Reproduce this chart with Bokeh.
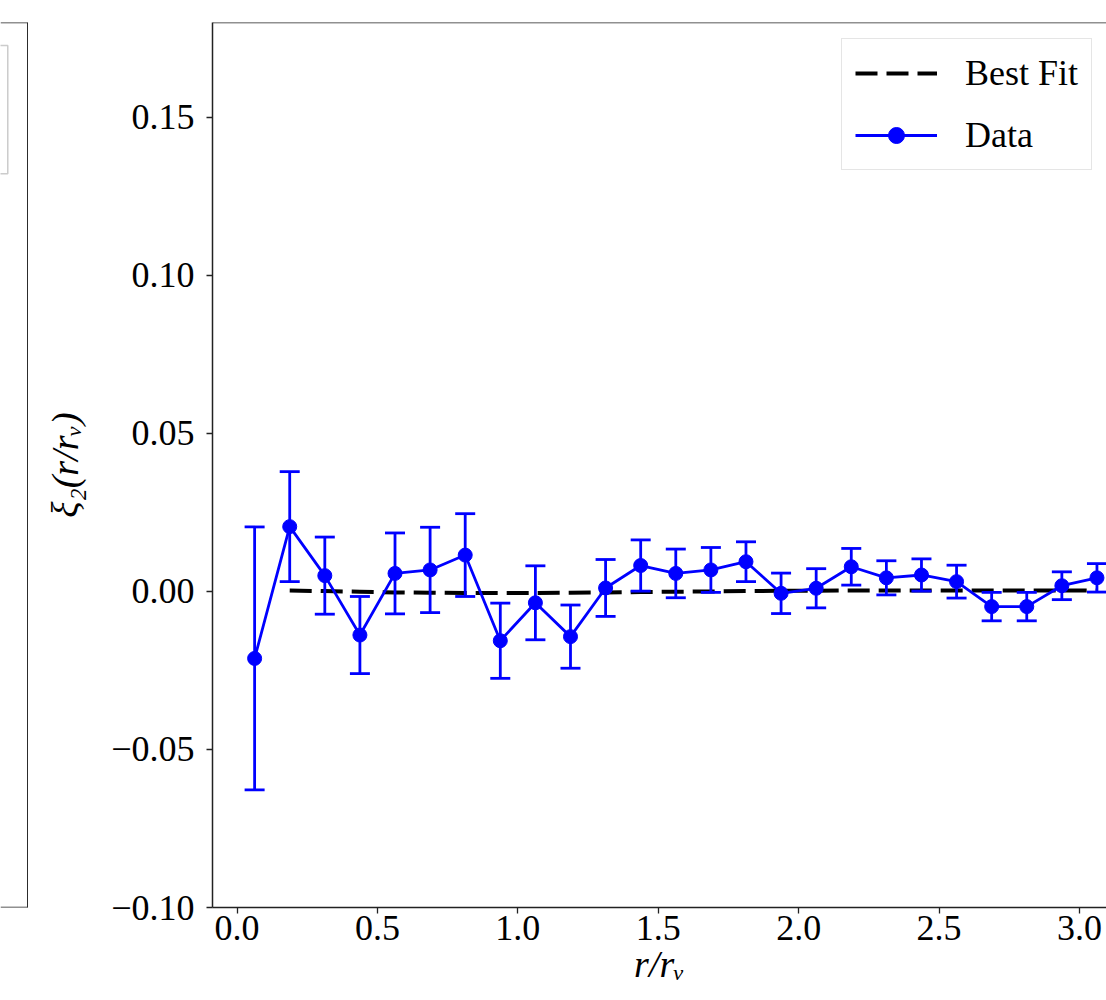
from bokeh.plotting import figure
from bokeh.models import (Range1d, FixedTicker, CustomJSTickFormatter, Whisker, TeeHead,
                          ColumnDataSource, Span, Legend, LegendItem)
from bokeh.layouts import row
from bokeh.embed import file_html
from bokeh.resources import INLINE

# ---------------- data ----------------
r_over_rv = [0.0625, 0.1875, 0.3125, 0.4375, 0.5625, 0.6875, 0.8125, 0.9375, 1.0625,
             1.1875, 1.3125, 1.4375, 1.5625, 1.6875, 1.8125, 1.9375, 2.0625, 2.1875,
             2.3125, 2.4375, 2.5625, 2.6875, 2.8125, 2.9375, 3.0625]
xi2 = [-0.0212, 0.0205, 0.0050, -0.0138, 0.0057, 0.0068, 0.0115, -0.0156, -0.0036,
       -0.0143, 0.0011, 0.0082, 0.0057, 0.0068, 0.0094, -0.0006, 0.0010, 0.0078,
       0.0043, 0.0052, 0.0031, -0.0048, -0.0048, 0.0018, 0.0043]
xi2_err = [0.0416, 0.0174, 0.0122, 0.0122, 0.0128, 0.0135, 0.0131, 0.0119, 0.0117,
           0.0100, 0.0090, 0.0081, 0.0077, 0.0071, 0.0063, 0.0064, 0.0062, 0.0058,
           0.0054, 0.0051, 0.0052, 0.0045, 0.0045, 0.0044, 0.0045]

fit_r = [0.1875, 0.3125, 0.4375, 0.5625, 0.6875, 0.8125, 0.9375, 1.0625, 1.1875,
         1.3125, 1.4375, 1.5625, 1.6875, 1.8125, 1.9375, 2.0625, 2.1875, 2.3125,
         2.4375, 2.5625, 2.6875, 2.8125, 2.9375, 3.0625]
fit_xi2 = [0.0003, 0.0001, -0.0001, -0.0003, -0.0004, -0.0005, -0.0005, -0.0005, -0.0004,
           -0.0003, -0.0002, -0.0001, 0.0000, 0.0001, 0.0002, 0.0002, 0.0003, 0.0003,
           0.0003, 0.0003, 0.0003, 0.0003, 0.0003, 0.0003]

x_ticks = [0.0, 0.5, 1.0, 1.5, 2.0, 2.5, 3.0]
y_ticks = [-0.10, -0.05, 0.0, 0.05, 0.10, 0.15]

FONT = "Liberation Serif"
FS = "36px"
BLUE = "#0000ff"

# ---------------- left (neighbour) panel, only its edge visible ----------------
p0 = figure(width=28, height=1000, x_range=Range1d(0, 1), y_range=Range1d(0, 1),
            x_axis_type=None, y_axis_type=None, output_backend="svg",
            toolbar_location=None, min_border_left=0, min_border_right=0,
            min_border_top=22, min_border_bottom=93)
p0.outline_line_color = None
p0.background_fill_color = "white"
p0.border_fill_color = "white"
p0.quad(left=[-1.0], right=[0.26], top=[0.974], bottom=[0.829],
        fill_color="white", line_color="#cccccc", line_width=1.5)
for loc, dim in [(0.975, "height"), (1.0, "width"), (0.0, "width")]:
    p0.add_layout(Span(location=loc, dimension=dim, line_color="#222222", line_width=1.5))

# ---------------- main panel ----------------
p = figure(width=1078, height=1000, x_range=Range1d(-0.0875, 3.0965),
           y_range=Range1d(-0.10, 0.18), output_backend="svg", toolbar_location=None,
           min_border_left=184, min_border_right=0, min_border_top=22,
           min_border_bottom=93)
p.outline_line_color = None
p.grid.visible = False
p.background_fill_color = "white"
p.border_fill_color = "white"

p.add_layout(Span(location=0.18, dimension="width", line_color="#222222", line_width=1.5))

src = ColumnDataSource(dict(
    x=r_over_rv, y=xi2,
    upper=[v + e for v, e in zip(xi2, xi2_err)],
    lower=[v - e for v, e in zip(xi2, xi2_err)],
))

fit_line = p.line(fit_r, fit_xi2, line_color="black", line_width=4, line_dash="22 9")

data_line = p.line("x", "y", source=src, line_color=BLUE, line_width=2.8)
whisk = Whisker(base="x", upper="upper", lower="lower", source=src, dimension="height",
                line_color=BLUE, line_width=2.8, level="glyph",
                upper_head=TeeHead(size=20, line_color=BLUE, line_width=2.8),
                lower_head=TeeHead(size=20, line_color=BLUE, line_width=2.8))
p.add_layout(whisk)
data_pts = p.scatter("x", "y", source=src, size=14, fill_color=BLUE, line_color=BLUE)

legend = Legend(items=[LegendItem(label="Best Fit", renderers=[fit_line]),
                       LegendItem(label="Data", renderers=[data_line, data_pts])],
                location=(629, 737))
legend.label_text_font = FONT
legend.label_text_font_size = FS
legend.label_text_color = "black"
legend.glyph_width = 82
legend.glyph_height = 40
legend.label_height = 40
legend.label_standoff = 28
legend.spacing = 20
legend.padding = 13
legend.margin = 0
legend.border_line_color = "#cccccc"
legend.border_line_width = 1.5
legend.background_fill_color = "white"
legend.background_fill_alpha = 0.8
p.add_layout(legend)

# axes
p.xaxis.ticker = FixedTicker(ticks=x_ticks)
p.yaxis.ticker = FixedTicker(ticks=y_ticks)
p.xaxis.formatter = CustomJSTickFormatter(
    code='return (tick < -1e-9 ? "\u2212" : "") + Math.abs(tick).toFixed(1);')
p.yaxis.formatter = CustomJSTickFormatter(
    code='return (tick < -1e-9 ? "\u2212" : "") + Math.abs(tick).toFixed(2);')

for ax in (p.xaxis[0], p.yaxis[0]):
    ax.axis_line_color = "#222222"
    ax.axis_line_width = 1.5
    ax.major_tick_line_color = "#222222"
    ax.major_tick_line_width = 1.3
    ax.major_tick_in = 0
    ax.major_tick_out = 6
    ax.minor_tick_line_color = None
    ax.major_label_text_font = FONT
    ax.major_label_text_font_size = FS
    ax.major_label_text_color = "black"
    ax.axis_label_text_font = FONT
    ax.axis_label_text_font_size = "38px"
    ax.axis_label_text_font_style = "italic"
    ax.axis_label_text_color = "black"

p.xaxis.axis_label = "r/r\u1d65"
p.xaxis.major_label_standoff = 2
p.xaxis.axis_label_standoff = 0
p.yaxis.axis_label = "\u03be\u2082(r/r\u1d65)"
p.yaxis.major_label_standoff = 12
p.yaxis.axis_label_standoff = 22

layout = row(p0, p, spacing=0)
open("out.html", "w").write(file_html(layout, INLINE))
